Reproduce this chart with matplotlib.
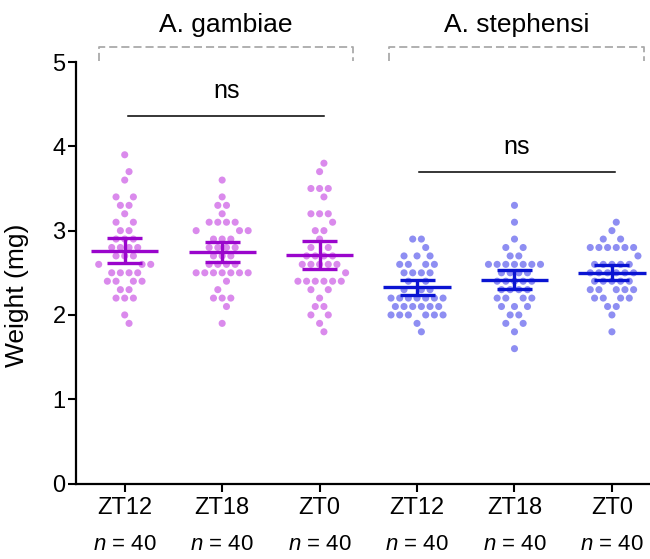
import numpy as np
import matplotlib
matplotlib.use('Agg')
import matplotlib.pyplot as plt
from matplotlib.transforms import blended_transform_factory

plt.rcParams['font.family'] = ['Liberation Sans', 'DejaVu Sans']
plt.rcParams['mathtext.fontset'] = 'custom'
plt.rcParams['mathtext.it'] = 'Liberation Sans:italic'
plt.rcParams['mathtext.rm'] = 'Liberation Sans'

# ---------------- data ----------------
species = ['A. gambiae', 'A. stephensi']
timepoints = ['ZT12', 'ZT18', 'ZT0', 'ZT12', 'ZT18', 'ZT0']
n_labels = ['$n$ = 40'] * 6
sig_labels = ['ns', 'ns']

gam_zt12 = [3.9, 3.7, 3.6, 3.4, 3.4, 3.3, 3.3, 3.2, 3.1, 3.1, 3.0, 3.0,
            2.9, 2.9, 2.9, 2.8, 2.8, 2.8, 2.8, 2.7, 2.7, 2.7, 2.6, 2.6, 2.6,
            2.5, 2.5, 2.5, 2.5, 2.4, 2.4, 2.4, 2.4, 2.3, 2.3, 2.2, 2.2, 2.2,
            2.0, 1.9]
gam_zt18 = [3.6, 3.4, 3.3, 3.3, 3.2, 3.1, 3.1, 3.1, 3.1, 3.0, 3.0, 3.0,
            2.9, 2.9, 2.9, 2.8, 2.8, 2.8, 2.8, 2.7, 2.7, 2.7, 2.6, 2.6, 2.6, 2.6,
            2.5, 2.5, 2.5, 2.5, 2.5, 2.5, 2.5, 2.4, 2.3, 2.2, 2.2, 2.2, 2.1, 1.9]
gam_zt0 = [3.8, 3.7, 3.5, 3.5, 3.5, 3.4, 3.2, 3.2, 3.2, 3.1, 3.0, 3.0, 2.9,
           2.8, 2.8, 2.7, 2.7, 2.7, 2.7, 2.6, 2.6, 2.6, 2.6, 2.6, 2.5,
           2.4, 2.4, 2.4, 2.4, 2.4, 2.4, 2.3, 2.3, 2.2, 2.1, 2.1, 2.0, 2.0,
           1.9, 1.8]
ste_zt12 = [2.9, 2.9, 2.8, 2.7, 2.7, 2.7, 2.6, 2.6, 2.6, 2.6, 2.5, 2.5, 2.5, 2.5,
            2.4, 2.4, 2.3, 2.3, 2.3, 2.2, 2.2, 2.2, 2.2, 2.2, 2.2, 2.2,
            2.1, 2.1, 2.1, 2.1, 2.1, 2.1, 2.0, 2.0, 2.0, 2.0, 2.0, 2.0, 1.9, 1.8]
ste_zt18 = [3.3, 3.1, 2.9, 2.8, 2.8, 2.7, 2.7, 2.6, 2.6, 2.6, 2.6, 2.6, 2.6, 2.6,
            2.5, 2.5, 2.5, 2.5, 2.4, 2.4, 2.4, 2.4, 2.4, 2.3, 2.3, 2.3, 2.3,
            2.2, 2.2, 2.2, 2.2, 2.1, 2.1, 2.1, 2.0, 2.0, 1.9, 1.9, 1.8, 1.6]
ste_zt0 = [3.1, 3.0, 2.9, 2.9, 2.8, 2.8, 2.8, 2.8, 2.8, 2.8, 2.7,
           2.6, 2.6, 2.6, 2.6, 2.6, 2.5, 2.5, 2.5, 2.5, 2.5, 2.5,
           2.4, 2.4, 2.4, 2.4, 2.4, 2.3, 2.3, 2.3, 2.3, 2.3,
           2.2, 2.2, 2.2, 2.2, 2.1, 2.1, 2.0, 1.8]

# group summaries (mean and 95% CI limits)
means = [2.76, 2.75, 2.71, 2.33, 2.42, 2.50]
ci_low = [2.62, 2.63, 2.55, 2.24, 2.31, 2.42]
ci_high = [2.91, 2.87, 2.88, 2.42, 2.53, 2.59]

groups = [gam_zt12, gam_zt18, gam_zt0, ste_zt12, ste_zt18, ste_zt0]

# ---------------- styling ----------------
dot_colors = ['#DA8AEC'] * 3 + ['#8E8EF2'] * 3
bar_colors = ['#9A05CC'] * 3 + ['#0A14D2'] * 3
dot_step = 0.089
mean_half = 0.345
cap_half = 0.18


def grid_swarm(vals):
    """Half-step grid scatter layout: points in one row are >= 1 step apart,
    points in neighbouring rows never share the same x position."""
    vals = np.asarray(vals, dtype=float)
    keys = np.round(vals * 10).astype(int)
    levels, counts = np.unique(keys, return_counts=True)
    med = np.median(keys)
    order = sorted(range(len(levels)),
                   key=lambda j: (-counts[j], abs(levels[j] - med)))
    placed = {}
    for j in order:
        key = levels[j]
        xs = []

        def free(h):
            for x in xs:
                if abs(x - h) < 2:
                    return False
            for nb in (key - 1, key + 1):
                if h in placed.get(nb, []):
                    return False
            return True

        k = counts[j]
        if k % 2 == 1:
            for m in range(0, 40):
                cands = [0] if m == 0 else [m, -m]
                done = False
                for h in cands:
                    if free(h):
                        xs.append(h)
                        done = True
                        break
                if done:
                    break
            k -= 1
        while k > 0:
            for m in range(1, 60):
                if free(m) and free(-m):
                    xs.extend([m, -m])
                    break
            k -= 2
        placed[key] = xs
    out_x, out_y = [], []
    for key, xs in placed.items():
        for h in xs:
            out_x.append(h * 0.5)
            out_y.append(key / 10.0)
    return np.array(out_x), np.array(out_y)


fig = plt.figure(figsize=(6.5, 5.59), dpi=100)
ax = fig.add_axes([0.1169, 0.135, 0.883, 0.754])

for i, vals in enumerate(groups):
    hx, vy = grid_swarm(vals)
    ax.scatter(i + hx * dot_step, vy, s=26, color=dot_colors[i],
               edgecolors='none', zorder=2)
    ax.plot([i - mean_half, i + mean_half], [means[i], means[i]],
            color=bar_colors[i], lw=2.4, solid_capstyle='butt', zorder=3)
    ax.plot([i, i], [ci_low[i], ci_high[i]], color=bar_colors[i], lw=2.4,
            solid_capstyle='butt', zorder=3)
    for yv in (ci_low[i], ci_high[i]):
        ax.plot([i - cap_half, i + cap_half], [yv, yv], color=bar_colors[i],
                lw=2.4, solid_capstyle='butt', zorder=3)

ax.set_xlim(-0.5, 5.39)
ax.set_ylim(0, 5)
ax.set_yticks([0, 1, 2, 3, 4, 5])
ax.set_xticks(range(6))
ax.set_xticklabels(timepoints)
ax.tick_params(axis='both', labelsize=17, width=1.5, length=5.5, color='black')
ax.tick_params(axis='x', pad=4)
ax.tick_params(axis='y', pad=2)
for sp in ['top', 'right']:
    ax.spines[sp].set_visible(False)
for sp in ['left', 'bottom']:
    ax.spines[sp].set_linewidth(1.6)
ax.set_ylabel('Weight (mg)', fontsize=19, labelpad=6)
ax.yaxis.set_label_coords(-0.082, 0.447)

tr = blended_transform_factory(ax.transData, ax.transAxes)
for i, lab in enumerate(n_labels):
    ax.text(i, -0.145, lab, transform=tr, ha='center', va='center', fontsize=16)

bracket_x = [(-0.26, 2.34), (2.71, 5.33)]
for (x0, x1), name in zip(bracket_x, species):
    ax.plot([x0, x0, x1, x1], [5.01, 5.18, 5.18, 5.01], color='#AAAAAA',
            lw=1.3, ls=(0, (4.5, 2.2)), clip_on=False)
    ax.text((x0 + x1) / 2, 5.36, name, ha='center', va='baseline',
            fontsize=19, clip_on=False)

sig_x = [(0.035, 2.046), (3.02, 5.03)]
sig_y = [4.36, 3.70]
for (x0, x1), yv, lab in zip(sig_x, sig_y, sig_labels):
    ax.plot([x0, x1], [yv, yv], color='black', lw=1.1, clip_on=False)
    ax.text((x0 + x1) / 2, yv + 0.21, lab, ha='center', va='baseline',
            fontsize=18)

fig.savefig('out.png', dpi=100)
